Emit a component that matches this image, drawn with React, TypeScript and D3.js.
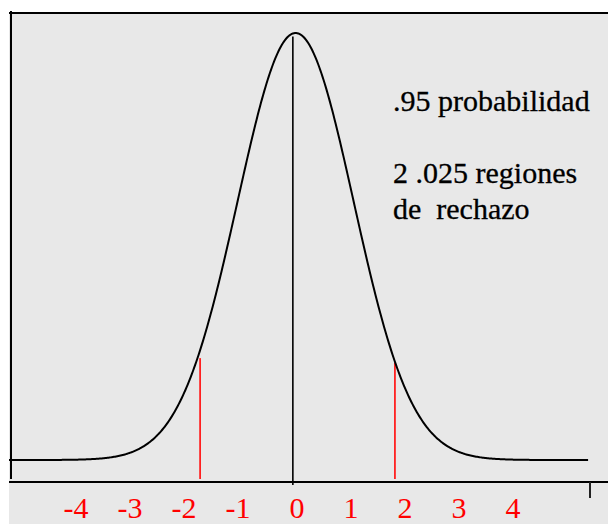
import React from "react";
import * as d3 from "d3";

// ---- data ----
const tickValues = [-4, -3, -2, -1, 0, 1, 2, 3, 4];
const tickLabels = ["-4", "-3", "-2", "-1", "0", "1", "2", "3", "4"];
const curveMean = 0.02;
const curveSd = 1.056;
const curveRange = [-5.17, 5.36];
const rejectionBounds = [-1.72, 1.83];
const centerLine = [-0.03];
const annotationLines = [".95 probabilidad", "", "2 .025 regiones", "de  rechazo"];

const W = 608;
const H = 524;

export default function App() {
  // digit positions of the tick labels
  const x = d3.scaleLinear().domain([-4, 4]).range([81, 513]);
  const pdf = (z: number) =>
    Math.exp(-0.5 * ((z - curveMean) / curveSd) ** 2) / (curveSd * Math.sqrt(2 * Math.PI));
  const zs = d3.range(curveRange[0], curveRange[1] + 1e-9, 0.02);
  const pts = zs.map((z) => [z, pdf(z)] as [number, number]);
  const y = d3.scaleLinear().domain([0, pdf(curveMean)]).range([460, 33]);
  const xc = d3.scaleLinear().domain([-4, 4]).range([75, 514]);
  const line = d3
    .line<[number, number]>()
    .x((d) => xc(d[0]))
    .y((d) => y(d[1]))
    .curve(d3.curveLinear);

  const font = "'Times New Roman', Tinos, 'Liberation Serif', Times, serif";
  const axisY = 482;
  const labelSize = 30;

  return (
    <svg
      width={W}
      height={H}
      style={{ position: "absolute", left: 0, top: 0, display: "block" }}
    >
      <rect x={0} y={0} width={W} height={H} fill="#ffffff" />
      <rect x={9} y={12} width={W - 9} height={H - 12} fill="#e8e8e8" />
      {/* frame */}
      <line x1={9} x2={W} y1={13} y2={13} stroke="#000" strokeWidth={2} />
      <line x1={11} x2={11} y1={11} y2={479} stroke="#000" strokeWidth={2} />
      <line x1={9} x2={W} y1={axisY} y2={axisY} stroke="#000" strokeWidth={2} />
      <line x1={590} x2={590} y1={axisY} y2={498} stroke="#222" strokeWidth={2} />
      {/* left baseline stub */}
      <line x1={9} x2={xc(curveRange[0])} y1={y(0)} y2={y(0)} stroke="#000" strokeWidth={2} />
      {/* center line */}
      {centerLine.map((v, i) => (
        <line key={i} x1={xc(v)} x2={xc(v)} y1={y(pdf(v)) + 3} y2={axisY + 3} stroke="#000" strokeWidth={1.6} />
      ))}
      {/* rejection bounds */}
      {rejectionBounds.map((v, i) => (
        <line
          key={i}
          x1={xc(v)}
          x2={xc(v)}
          y1={y(pdf(v)) + (i === 0 ? 8 : 1)}
          y2={479}
          stroke="#ff2020"
          strokeWidth={1.8}
        />
      ))}
      {/* curve */}
      <path d={line(pts) || ""} fill="none" stroke="#000" strokeWidth={2} strokeLinejoin="round" />
      {/* annotations */}
      {annotationLines.map((t, i) => (
        <text
          key={i}
          x={393}
          y={111 + i * 36}
          style={{ fontFamily: font, fontSize: 30, whiteSpace: "pre" }}
          fill="#000"
          stroke="#000"
          strokeWidth={0.3}
        >
          {t}
        </text>
      ))}
      {/* tick labels */}
      {tickValues.map((v, i) => (
        <text
          key={v}
          x={x(v) + labelSize * 0.25}
          y={518}
          textAnchor="end"
          style={{ fontFamily: font, fontSize: labelSize }}
          fill="#ff0000"
        >
          {tickLabels[i]}
        </text>
      ))}
    </svg>
  );
}
